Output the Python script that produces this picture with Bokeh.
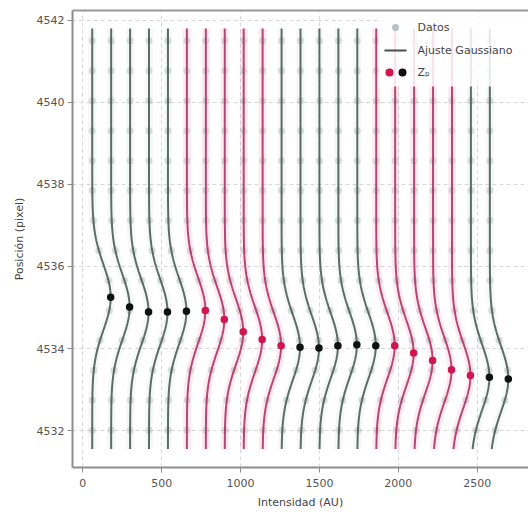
import numpy as np
from bokeh.plotting import figure
from bokeh.models import Range1d, LinearAxis, FixedTicker
from bokeh.core.properties import value
from bokeh.embed import file_html
from bokeh.resources import INLINE

# --- Gaussian fits of the line profiles (one per slit step) ---------------
# horizontal offset added to each profile so that they stack side by side
desplazamiento = [0, 120, 240, 360, 480, 600, 720, 840, 960, 1080, 1200,
                  1320, 1440, 1560, 1680, 1800, 1920, 2040, 2160, 2280, 2400, 2520]
fondo = [60] * 22
amplitud = [117, 117, 117, 117, 117, 117, 117, 117, 117, 117, 117,
            117, 117, 117, 117, 117, 117, 117, 117, 117, 117, 117]
sigma = [0.8] * 22
centro = [4535.25, 4535.01, 4534.89, 4534.89, 4534.91, 4534.93, 4534.71,
          4534.41, 4534.22, 4534.07, 4534.03, 4534.01, 4534.07, 4534.09,
          4534.07, 4534.07, 4533.89, 4533.71, 4533.48, 4533.34, 4533.30,
          4533.26]
# group flag: True -> highlighted (crimson) profiles
resaltado = [False] * 5 + [True] * 5 + [False] * 5 + [True] * 5 + [False] * 2

# sampled positions of the measured data
posiciones = [4541.50, 4540.77, 4540.04, 4539.31, 4538.58, 4537.85, 4537.12,
              4536.39, 4535.66, 4534.93, 4534.20, 4533.47, 4532.74, 4532.01]
pos_min, pos_max = 4531.55, 4541.8

x_ticks = [0, 500, 1000, 1500, 2000, 2500]
y_ticks = [4532, 4534, 4536, 4538, 4540, 4542]

GRIS = "#44524e"
CARMESI = "#a82a5e"
PUNTO_CARMESI = "#d0154f"
DATOS = "#a3b4b4"
FUENTE = "DejaVu Sans"


def gauss(y, off, b, a, c, s):
    return off + b + a * np.exp(-((np.asarray(y) - c) ** 2) / (2 * s ** 2))


p = figure(width=528, height=519, x_range=(-65, 2825), y_range=(4531.1, 4542.24),
           output_backend="svg", toolbar_location=None,
           min_border_left=72, min_border_right=0, min_border_top=10,
           min_border_bottom=52)

p.background_fill_color = "white"
p.border_fill_color = "white"
p.outline_line_color = None

xax = p.below[0]
yax = p.left[0]
for ax in (xax, yax):
    ax.axis_line_color = "#8c8c8c"
    ax.axis_line_width = 2
    ax.major_tick_line_color = "#8c8c8c"
    ax.major_tick_out = 5
    ax.major_tick_in = 0
    ax.minor_tick_line_color = None
    ax.major_label_text_font = FUENTE
    ax.major_label_text_font_size = "11px"
    ax.major_label_text_color = "#555555"
    ax.axis_label_text_font = FUENTE
    ax.axis_label_text_font_size = "11px"
    ax.axis_label_text_font_style = "normal"
    ax.axis_label_text_color = "#444444"

xax.ticker = FixedTicker(ticks=x_ticks)
yax.ticker = FixedTicker(ticks=y_ticks)
xax.axis_label = "Intensidad (AU)"
yax.axis_label = "Posición (pixel)"
xax.major_label_standoff = 6
yax.major_label_standoff = 3
xax.axis_label_standoff = 6
yax.axis_label_standoff = 8

# plain top border line (no ticks, no labels)
top = LinearAxis(ticker=FixedTicker(ticks=[]), axis_line_color="#9a9a9a",
                 axis_line_width=2, major_label_text_font_size="0px",
                 major_tick_line_color=None, minor_tick_line_color=None,
                 major_label_standoff=0)
p.add_layout(top, "above")

p.xgrid.grid_line_color = "#d8d8d8"
p.ygrid.grid_line_color = "#d8d8d8"
p.xgrid.grid_line_dash = "4 3"
p.ygrid.grid_line_dash = "4 3"
p.xgrid.ticker = FixedTicker(ticks=x_ticks)
p.ygrid.ticker = FixedTicker(ticks=y_ticks)

yy = np.linspace(pos_min, pos_max, 400)

# soft halo under each fitted curve
for i in range(len(centro)):
    xc = gauss(yy, desplazamiento[i], fondo[i], amplitud[i], centro[i], sigma[i])
    p.line(xc, yy, line_width=8, line_alpha=0.10 if resaltado[i] else 0.07,
           line_color="#e8336f" if resaltado[i] else "#5f9a94")

# measured data points
for i in range(len(centro)):
    xd = gauss(posiciones, desplazamiento[i], fondo[i], amplitud[i], centro[i], sigma[i])
    p.scatter(xd, posiciones, size=7, fill_color=DATOS, fill_alpha=0.4,
              line_color=None)

# fitted curves
for i in range(len(centro)):
    col = CARMESI if resaltado[i] else GRIS
    xc = gauss(yy, desplazamiento[i], fondo[i], amplitud[i], centro[i], sigma[i])
    p.line(xc, yy, line_width=2, line_color=col, line_alpha=0.85)

# peak positions Z_p
for i in range(len(centro)):
    xp = desplazamiento[i] + fondo[i] + amplitud[i]
    p.scatter([xp], [centro[i]], size=7.5, line_color=None,
              fill_color=PUNTO_CARMESI if resaltado[i] else "#111111")

# --- legend drawn in pixel coordinates of the frame -----------------------
p.extra_x_ranges = {"px": Range1d(72, 528)}
p.extra_y_ranges = {"px": Range1d(467, 10)}
kw = dict(x_range_name="px", y_range_name="px")

p.quad(left=[378], right=[528], top=[12], bottom=[86], fill_color="white",
       fill_alpha=0.85, line_color=None, **kw)
p.scatter([395], [27], size=7, fill_color=DATOS, fill_alpha=0.8, line_color=None, **kw)
p.line([384, 406], [50, 50], line_width=2, line_color=GRIS, **kw)
p.scatter([389], [72], size=8, fill_color=PUNTO_CARMESI, line_color=None, **kw)
p.scatter([402], [72], size=8, fill_color="#111111", line_color=None, **kw)
p.text(x=[417, 417, 417], y=[27, 50, 72], text=["Datos", "Ajuste Gaussiano", "Zₚ"],
       text_font=value(FUENTE), text_font_size="11px", text_color="#444444",
       text_baseline="middle", text_align="left", **kw)

open("out.html", "w").write(file_html(p, INLINE))
